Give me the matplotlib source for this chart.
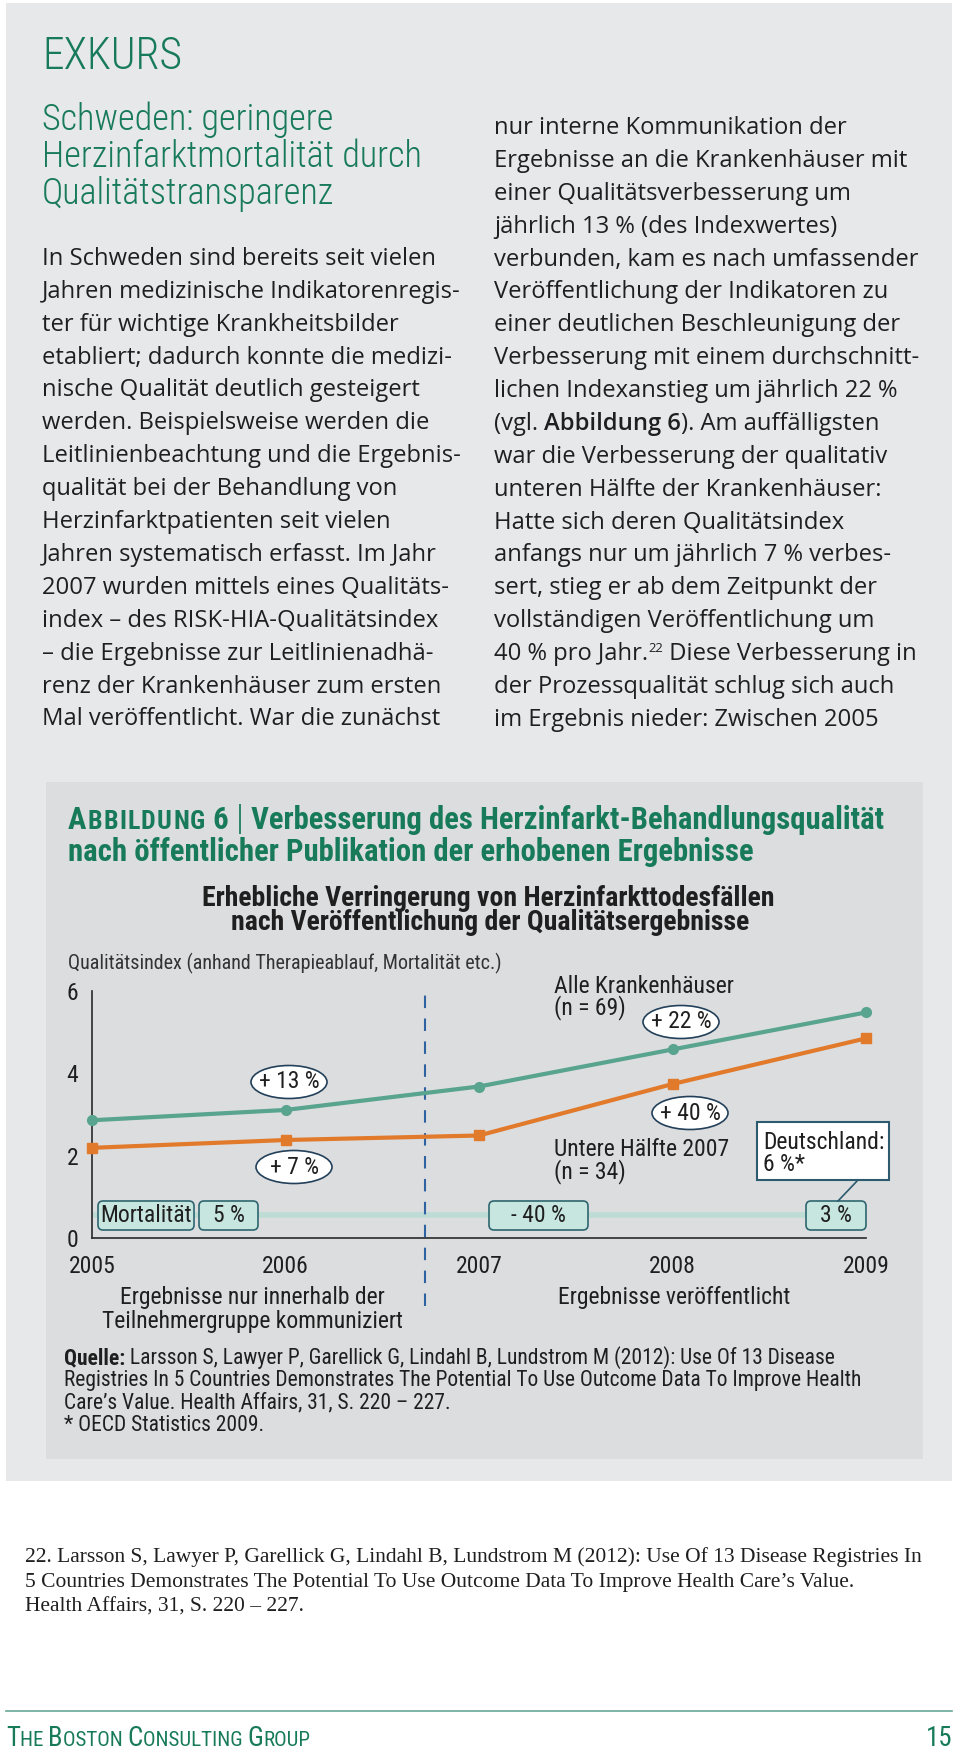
import matplotlib
matplotlib.use("Agg")
import matplotlib.pyplot as plt
import matplotlib.font_manager as fm
from matplotlib.patches import Rectangle, FancyBboxPatch, Ellipse

# ---- chart data ----
years = [2005, 2006, 2007, 2008, 2009]
alle_krankenhaeuser = [2.86, 3.11, 3.68, 4.58, 5.48]
untere_haelfte = [2.19, 2.38, 2.49, 3.74, 4.85]
y_ticks = [0, 2, 4, 6]
veroeffentlichung = 2006.72
wachstum_labels = ["+ 13 %", "+ 7 %", "+ 22 %", "+ 40 %"]
mortalitaet_labels = ["Mortalität", "5 %", "- 40 %", "3 %"]

# ---- page text ----
left_col = [
    "In Schweden sind bereits seit vielen",
    "Jahren medizinische Indikatorenregis-",
    "ter für wichtige Krankheitsbilder",
    "etabliert; dadurch konnte die medizi-",
    "nische Qualität deutlich gesteigert",
    "werden. Beispielsweise werden die",
    "Leitlinienbeachtung und die Ergebnis-",
    "qualität bei der Behandlung von",
    "Herzinfarktpatienten seit vielen",
    "Jahren systematisch erfasst. Im Jahr",
    "2007 wurden mittels eines Qualitäts-",
    "index – des RISK-HIA-Qualitätsindex",
    "– die Ergebnisse zur Leitlinienadhä-",
    "renz der Krankenhäuser zum ersten",
    "Mal veröffentlicht. War die zunächst",
]
right_col = [
    "nur interne Kommunikation der",
    "Ergebnisse an die Krankenhäuser mit",
    "einer Qualitätsverbesserung um",
    "jährlich 13 % (des Indexwertes)",
    "verbunden, kam es nach umfassender",
    "Veröffentlichung der Indikatoren zu",
    "einer deutlichen Beschleunigung der",
    "Verbesserung mit einem durchschnitt-",
    "lichen Indexanstieg um jährlich 22 %",
    None,  # (vgl. Abbildung 6) line, drawn with runs
    "war die Verbesserung der qualitativ",
    "unteren Hälfte der Krankenhäuser:",
    "Hatte sich deren Qualitätsindex",
    "anfangs nur um jährlich 7 % verbes-",
    "sert, stieg er ab dem Zeitpunkt der",
    "vollständigen Veröffentlichung um",
    None,  # 40 % pro Jahr.22 line
    "der Prozessqualität schlug sich auch",
    "im Ergebnis nieder: Zwischen 2005",
]
quelle = [
    " Larsson S, Lawyer P, Garellick G, Lindahl B, Lundstrom M (2012): Use Of 13 Disease",
    "Registries In 5 Countries Demonstrates The Potential To Use Outcome Data To Improve Health",
    "Care’s Value. Health Affairs, 31, S. 220 – 227.",
    "* OECD Statistics 2009.",
]
footnote = [
    "22. Larsson S, Lawyer P, Garellick G, Lindahl B, Lundstrom M (2012): Use Of 13 Disease Registries In",
    "5 Countries Demonstrates The Potential To Use Outcome Data To Improve Health Care’s Value.",
    "Health Affairs, 31, S. 220 – 227.",
]

installed = {f.name for f in fm.fontManager.ttflist}


def pick(*names):
    for n in names:
        if n in installed:
            return n
    return "DejaVu Sans"


BODY = pick("Open Sans", "Noto Sans", "Lato")
COND = pick("Roboto Condensed", "Liberation Sans Narrow", "Open Sans Condensed",
            "DejaVu Sans Condensed", "Roboto")
SERIF = pick("Liberation Serif", "DejaVu Serif")

GREEN = "#177a58"
LINE_G = "#58a48e"
LINE_O = "#e27a2b"
DASH = "#2f62a0"
TXT = "#1f1f1f"
BOX_OUT = "#e7e8e9"
BOX_IN = "#dcdddf"
MORT_FILL = "#c8e6e0"
MORT_EDGE = "#2d6670"
BAND = "#bcdcd5"
LABEL_EDGE = "#23405a"

fig = plt.figure(figsize=(9.6, 17.52), dpi=100)
page = fig.add_axes([0, 0, 1, 1])
page.set_xlim(0, 960)
page.set_ylim(1752, 0)
page.axis("off")
renderer = fig.canvas.get_renderer()


def measure(s, **kw):
    t = page.text(0, 0, s, **kw)
    w = t.get_window_extent(renderer).width
    t.remove()
    return w


def advance(s, **kw):
    return measure("|" + s + "|", **kw) - measure("||", **kw)


def fit(s, target, **kw):
    return 20 * target / measure(s, fontsize=20, **kw)


def base(yc, size):
    # baseline from visual line centre
    return yc + 0.33 * size / 0.72


def draw_runs(x, y, parts, **common):
    for s, kw in parts:
        kw = dict(kw)
        rise = kw.pop("rise", 0)
        track = kw.pop("track", 0)
        opts = {**common, **kw}
        page.text(x, y - rise, s, va="baseline", ha="left", **opts)
        x += advance(s, **{k: v for k, v in opts.items() if k != "color"}) + track
    return x


# backgrounds
page.add_patch(Rectangle((6, 3), 946, 1478, fc=BOX_OUT, ec="none"))
page.add_patch(Rectangle((46, 782), 877, 677, fc=BOX_IN, ec="none"))

# ---- EXKURS header ----
fs = fit("EXKURS", 140, family=COND, weight="light")
page.text(42, base(54, fs) + 1, "EXKURS", family=COND, weight="light", fontsize=fs,
          color=GREEN, va="baseline")
fs_sub = fit("Herzinfarktmortalität durch", 380, family=COND, weight="light")
for i, line in enumerate(["Schweden: geringere", "Herzinfarktmortalität durch",
                          "Qualitätstransparenz"]):
    page.text(42, base(118 + 37 * i, fs_sub), line, family=COND, weight="light",
              fontsize=fs_sub, color=GREEN, va="baseline")

# ---- body text ----
fs_body = fit(left_col[0], 391, family=BODY)
for i, line in enumerate(left_col):
    page.text(42, base(257 + 32.9 * i, fs_body), line, family=BODY,
              fontsize=fs_body, color=TXT, va="baseline")
for i, line in enumerate(right_col):
    yb = base(126.3 + 32.87 * i, fs_body)
    if line is not None:
        page.text(494, yb, line, family=BODY, fontsize=fs_body, color=TXT, va="baseline")
    elif i == 9:
        draw_runs(494, yb, [("(vgl. ", {}), ("Abbildung 6", {"weight": "semibold"}),
                            ("). Am auffälligsten", {})],
                  family=BODY, fontsize=fs_body, color=TXT)
    else:
        draw_runs(494, yb, [("40 % pro Jahr.", {}),
                            ("22", {"fontsize": fs_body * 0.55, "rise": 8}),
                            (" Diese Verbesserung in", {})],
                  family=BODY, fontsize=fs_body, color=TXT)

# ---- figure header ----
fs_ab = fit("nach öffentlicher Publikation der erhobenen Ergebnisse", 685,
            family=COND, weight="bold")
head = [("A", {"track": 1.2})]
head += [(c, {"fontsize": fs_ab * 0.84, "track": 1.2}) for c in "BBILDUNG"]
head += [(" 6 ", {}), ("|", {"weight": "light", "fontsize": fs_ab * 1.15}),
         (" Verbesserung des Herzinfarkt-Behandlungsqualität", {})]
draw_runs(68, base(819, fs_ab), head, family=COND, weight="bold", fontsize=fs_ab,
          color=GREEN)
page.text(68, base(851, fs_ab), "nach öffentlicher Publikation der erhobenen Ergebnisse",
          family=COND, weight="bold", fontsize=fs_ab, color=GREEN, va="baseline")

fs_t = fit("Erhebliche Verringerung von Herzinfarkttodesfällen", 572,
           family=COND, weight="bold")
page.text(488, base(897, fs_t), "Erhebliche Verringerung von Herzinfarkttodesfällen",
          family=COND, weight="bold", fontsize=fs_t, color=TXT, ha="center", va="baseline")
page.text(490, base(921, fs_t), "nach Veröffentlichung der Qualitätsergebnisse",
          family=COND, weight="bold", fontsize=fs_t, color=TXT, ha="center", va="baseline")

fs_c = fit("Alle Krankenhäuser", 180, family=COND)
fs_q = fit("Qualitätsindex (anhand Therapieablauf, Mortalität etc.)", 434, family=COND)
page.text(68, base(963, fs_q), "Qualitätsindex (anhand Therapieablauf, Mortalität etc.)",
          family=COND, fontsize=fs_q, color="#333333", va="baseline")

# ---- chart ----
ax = fig.add_axes([92 / 960, 1 - 1238 / 1752, 774 / 960, 247 / 1752])
ax.patch.set_alpha(0)
ax.plot(years, alle_krankenhaeuser, color=LINE_G, lw=3, marker="o", ms=7,
        zorder=4, clip_on=False)
ax.plot(years, untere_haelfte, color=LINE_O, lw=3, marker="s", ms=6.5,
        zorder=4, clip_on=False)
ax.plot([veroeffentlichung, veroeffentlichung], [-1.65, 6.1], color=DASH, lw=1.5,
        ls=(0, (6, 5)), zorder=2, clip_on=False)
ax.plot([2005, 2009], [0.56, 0.56], color=BAND, lw=4, solid_capstyle="butt",
        zorder=1, clip_on=False)
ax.set_xlim(2005, 2009)
ax.set_ylim(0, 6)
ax.set_xticks(years)
ax.set_yticks(y_ticks)
ax.tick_params(axis="both", length=0, labelsize=fs_c, labelcolor=TXT)
ax.tick_params(axis="x", pad=12)
ax.tick_params(axis="y", pad=10)
for lab in ax.get_xticklabels() + ax.get_yticklabels():
    lab.set_family(COND)
for s in ("top", "right"):
    ax.spines[s].set_visible(False)
for s in ("left", "bottom"):
    ax.spines[s].set_color("#2a2a2a")
    ax.spines[s].set_linewidth(1.2)

pt = page.transData
# mortality boxes (page px)
mort_boxes = [(98, 96), (199, 59), (489, 99), (806, 60)]
for (x0, w), lab in zip(mort_boxes, mortalitaet_labels):
    ax.add_patch(FancyBboxPatch((x0, 1201), w, 29, boxstyle="round,pad=0,rounding_size=5",
                                fc=MORT_FILL, ec=MORT_EDGE, lw=1.2, transform=pt,
                                clip_on=False, zorder=5))
    ax.text(x0 + w / 2, 1216, lab, transform=pt, ha="center", va="center",
            family=COND, fontsize=fs_c, color=TXT, zorder=6, clip_on=False)

# growth ellipses
ellipse_pos = [(289, 1082), (294, 1167), (681, 1022), (690, 1113)]
for (cx, cy), lab in zip(ellipse_pos, wachstum_labels):
    ax.add_patch(Ellipse((cx, cy), 76, 33, fc="white", ec=LABEL_EDGE, lw=1.2,
                         transform=pt, clip_on=False, zorder=5))
    ax.text(cx, cy, lab, transform=pt, ha="center", va="center", family=COND,
            fontsize=fs_c, color=TXT, zorder=6, clip_on=False)

# series labels
for yc, s in [(985, "Alle Krankenhäuser"), (1007, "(n = 69)"),
              (1148, "Untere Hälfte 2007"), (1171, "(n = 34)")]:
    ax.text(554, base(yc, fs_c), s, transform=pt, va="baseline", family=COND,
            fontsize=fs_c, color=TXT, clip_on=False)

# Deutschland box
ax.add_patch(Rectangle((757, 1122), 132, 58, fc="white", ec="#2c5a6e", lw=1.5,
                       transform=pt, clip_on=False, zorder=5))
ax.plot([858, 838], [1180, 1201], color="#2c5a6e", lw=1.2, transform=pt,
        clip_on=False, zorder=5)
ax.text(763, base(1141, fs_c), "Deutschland:", transform=pt, va="baseline",
        family=COND, fontsize=fs_c, color=TXT, zorder=6, clip_on=False)
ax.text(763, base(1163, fs_c), "6 %*", transform=pt, va="baseline",
        family=COND, fontsize=fs_c, color=TXT, zorder=6, clip_on=False)

# phase labels
for xc, yc, s in [(252, 1296, "Ergebnisse nur innerhalb der"),
                  (252, 1320, "Teilnehmergruppe kommuniziert"),
                  (674, 1296, "Ergebnisse veröffentlicht")]:
    ax.text(xc, base(yc, fs_c), s, transform=pt, ha="center", va="baseline",
            family=COND, fontsize=fs_c, color=TXT, clip_on=False)

# ---- source ----
fs_src = fit(quelle[1], 800, family=COND)
draw_runs(64, base(1357, fs_src), [("Quelle:", {"weight": "bold"}), (quelle[0], {})],
          family=COND, fontsize=fs_src, color=TXT)
for i, line in enumerate(quelle[1:]):
    page.text(64, base(1379 + 22.4 * i, fs_src), line, family=COND,
              fontsize=fs_src, color=TXT, va="baseline")

# ---- footnote ----
fs_fn = fit(footnote[0], 898, family=SERIF)
for i, line in enumerate(footnote):
    page.text(25, base(1555 + 24.7 * i, fs_fn), line, family=SERIF,
              fontsize=fs_fn, color=TXT, va="baseline")

# ---- footer ----
page.plot([6, 952], [1711, 1711], color="#6aa79a", lw=1.2)
foot_parts = [("T", 1), ("HE ", 0.78), ("B", 1), ("OSTON ", 0.78), ("C", 1),
              ("ONSULTING ", 0.78), ("G", 1), ("ROUP", 0.78)]
w20 = sum(advance(s, family=COND, fontsize=20 * k) for s, k in foot_parts)
fs_ft = 20 * 304 / w20
draw_runs(6, base(1738, fs_ft) - 1, [(s, {"fontsize": fs_ft * k}) for s, k in foot_parts],
          family=COND, color=GREEN)
page.text(952, base(1738, fs_ft) - 1, "15", family=COND, fontsize=fs_ft, color=GREEN,
          ha="right", va="baseline")

fig.savefig("out.png", dpi=100)
